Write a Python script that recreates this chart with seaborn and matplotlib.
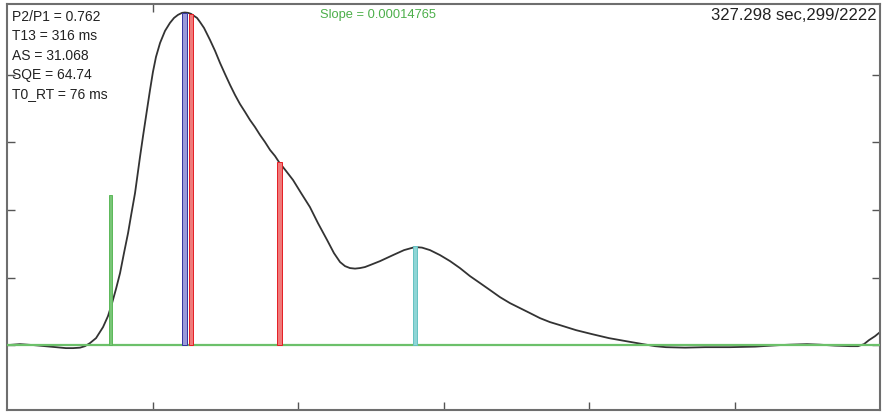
import matplotlib
matplotlib.use("Agg")
import matplotlib.pyplot as plt
import numpy as np
import pandas as pd
import seaborn as sns

# Waveform samples (time index, amplitude)
t = [0, 8.9, 18.6, 26.1, 33.7, 40.5, 45.4, 50.2, 53.6, 57.0, 61.2, 66.0, 69.4,
     72.2, 74.9, 77.7, 80.4, 83.2, 85.2, 88.0, 91.4, 93.5, 96.2, 98.3, 100.3,
     102.4, 105.2, 108.6, 112.0, 114.8, 117.5, 120.3, 122.3, 124.4, 126.5,
     128.5, 130.6, 132.6, 135.4, 139.5, 143.0, 146.4, 149.8, 153.3, 156.7,
     160.1, 163.6, 167.0, 170.4, 173.9, 177.3, 180.8, 184.2, 186.9, 191.8,
     196.6, 202.1, 208.2, 213.7, 220.0, 224.7, 228.9, 232.3, 235.7, 239.2,
     242.6, 246.0, 249.5, 256.4, 265.3, 272.9, 280.4, 285.2, 290.7, 297.6,
     304.5, 311.3, 318.2, 325.1, 332.0, 338.8, 345.7, 352.6, 359.5, 366.3,
     373.2, 380.1, 391.1, 402.1, 413.7, 425.4, 437.1, 445.4, 452.9, 466.0,
     479.7, 496.9, 514.1, 530.6, 538.1, 549.8, 558.8, 569.1, 579.4, 584.9,
     589.0, 592.4, 596.6, 600.0]
amp = [0.0, 0.015, 0.0, -0.015, -0.03, -0.044, -0.044, -0.037, -0.015, 0.03,
       0.104, 0.267, 0.43, 0.622, 0.83, 1.067, 1.363, 1.659, 1.911, 2.252,
       2.785, 3.096, 3.481, 3.778, 4.044, 4.267, 4.474, 4.652, 4.77, 4.844,
       4.889, 4.919, 4.924, 4.919, 4.904, 4.874, 4.844, 4.785, 4.696, 4.519,
       4.356, 4.178, 4.015, 3.852, 3.704, 3.57, 3.452, 3.333, 3.23, 3.111,
       3.007, 2.889, 2.8, 2.711, 2.578, 2.444, 2.252, 2.044, 1.807, 1.556,
       1.363, 1.23, 1.17, 1.141, 1.133, 1.141, 1.156, 1.185, 1.244, 1.333,
       1.407, 1.452, 1.444, 1.407, 1.333, 1.244, 1.141, 1.022, 0.919, 0.815,
       0.711, 0.622, 0.548, 0.474, 0.4, 0.341, 0.296, 0.222, 0.163, 0.104,
       0.059, 0.015, -0.015, -0.03, -0.037, -0.03, -0.03, -0.022, 0.0, 0.007,
       0.015, 0.007, -0.007, -0.015, -0.015, 0.015, 0.074, 0.133, 0.193]

# Event markers: position, height, width, edge colour, fill colour
marker_t = [71.3, 121.9, 126.5, 187.1, 280.6]
marker_h = [2.22, 4.92, 4.90, 2.71, 1.47]
marker_w = [1.9, 3.6, 3.2, 3.2, 2.6]
marker_edge = ["#5cb85a", "#34349e", "#e41e24", "#e41e24", "#66c2c2"]
marker_fill = ["#79c677", "#9a9ad8", "#f07a7a", "#f07a7a", "#8fd6d6"]

stats_lines = ["P2/P1 = 0.762", "T13 = 316 ms", "AS = 31.068",
               "SQE = 64.74", "T0_RT = 76 ms"]
slope_label = "Slope = 0.00014765"
time_label = "327.298 sec,299/2222"

x_ticks = [100, 200, 300, 400, 500]
y_ticks = [0, 1, 2, 3, 4]

sns.set_style("white")
plt.rcParams["font.family"] = ["Liberation Sans", "DejaVu Sans"]

W, H = 885, 413
fig = plt.figure(figsize=(W / 100, H / 100), dpi=100)
ax = fig.add_axes([7 / W, 3 / H, 873 / W, 406 / H])

df = pd.DataFrame({"t": t, "amp": amp})
sns.lineplot(data=df, x="t", y="amp", ax=ax, color="#333333", lw=1.3,
             zorder=2, sort=False)

# zero baseline
ax.axhline(0, color="#6cc06a", lw=1.6, zorder=3)

ax.bar(marker_t, marker_h, width=marker_w, color=marker_fill,
       edgecolor=marker_edge, linewidth=0.7, zorder=4, align="center")

ax.set_xlim(0, 600)
ax.set_ylim(-0.96, 5.05)
ax.set_xlabel("")
ax.set_ylabel("")
ax.set_xticks(x_ticks)
ax.set_yticks(y_ticks)
ax.tick_params(axis="both", direction="in", length=6, width=1.0,
               color="#555555", labelbottom=False, labelleft=False,
               left=True, right=True, bottom=True, top=False)

top = ax.secondary_xaxis("top")
top.set_xticks([x_ticks[0]])
top.tick_params(direction="in", length=6, width=1.0, color="#555555",
                labeltop=False)
top.spines["top"].set_visible(False)

for s in ax.spines.values():
    s.set_visible(True)
    s.set_color("#6e6e6e")
    s.set_linewidth(1.5)

for i, line in enumerate(stats_lines):
    fig.text(12 / W, 1 - (17 + 19.3 * i) / H, line, fontsize=10,
             color="#222222", va="center", ha="left")

fig.text(378 / W, 1 - 15 / H, slope_label, fontsize=9.3, color="#4caf4a",
         va="center", ha="center")
fig.text(877 / W, 1 - 16 / H, time_label, fontsize=12, color="#222222",
         va="center", ha="right")

fig.savefig("out.png", dpi=100, facecolor="white")
